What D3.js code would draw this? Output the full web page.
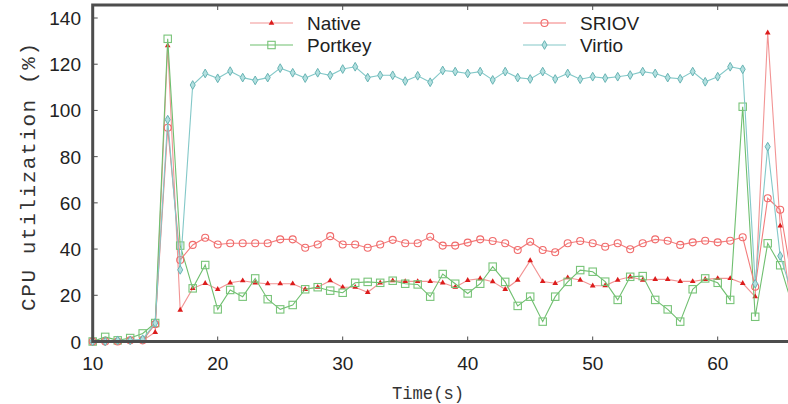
<!DOCTYPE html>
<html>
<head>
<meta charset="utf-8">
<script src="https://cdn.jsdelivr.net/npm/d3@7/dist/d3.min.js"></script>
<style>
  html, body { margin: 0; padding: 0; background: #fff; }
  svg { display: block; }
</style>
</head>
<body>
<div id="chart"></div>
<script>
// Time axis (seconds)
const times = [10, 11, 12, 13, 14, 15, 16, 17, 18, 19, 20, 21, 22, 23, 24, 25, 26, 27, 28, 29,
  30, 31, 32, 33, 34, 35, 36, 37, 38, 39, 40, 41, 42, 43, 44, 45, 46, 47, 48, 49,
  50, 51, 52, 53, 54, 55, 56, 57, 58, 59, 60, 61, 62, 63, 64, 65, 66];

// CPU utilization (%) per configuration
const nativeCpu = [0, 0, 0, 0, 0.5, 4, 128, 13.6, 23, 25.2, 22.6, 25.4, 26.3, 25.4, 25, 25, 25, 22.6, 23.5, 26.3,
  23.5, 23.5, 21.3, 25.4, 26.3, 26, 26, 26, 25.4, 23.5, 26.5, 27.2, 25.9, 22.6, 26.6, 35, 26, 25.2, 27.6, 26.6,
  24.1, 24.2, 26.6, 28, 26.6, 26.9, 26.9, 26, 26, 26.9, 27.3, 27.3, 25.2, 19.4, 133.6, 50, 10];

const sriovCpu = [0, 0, 0, 0.5, 0.5, 7.5, 92.5, 35.3, 41.8, 44.9, 42, 42.5, 42.5, 42.5, 42.5, 44.2, 44.2, 40.6, 42, 45.6,
  42, 42, 40.6, 42, 44, 42.5, 42.5, 45.3, 41.5, 41.5, 42.8, 44.2, 43.5, 42.5, 39.6, 43.2, 39.6, 38.6, 42.5, 43.5,
  42.5, 41, 42.5, 39.9, 42.5, 44.2, 43.6, 41.8, 42.9, 43.6, 42.9, 43.6, 45.1, 23.7, 62, 57, 25];

const portkeyCpu = [0, 2, 0.5, 1.5, 3.5, 8, 131, 41.5, 23, 33.1, 13.9, 22.3, 19.4, 27.3, 18.3, 13.9, 15.8, 22.6, 23.5, 22,
  21.1, 25.4, 25.8, 25.4, 26.3, 25, 24.7, 19.4, 29.2, 25, 20.8, 25, 32.4, 25.8, 15.4, 19.4, 8.6, 19.4, 25.8, 30.9,
  30.2, 25.9, 18, 28, 28.3, 18, 13.9, 8.6, 22.6, 27.3, 25.4, 18, 101.6, 10.7, 42.5, 33, 15];

const virtioCpu = [0, 0, 0.5, 0.5, 1, 8, 96, 31, 111, 116, 113.9, 117, 114.2, 113, 114.2, 118.3, 116.3, 114, 116.3, 115.2,
  117.9, 118.9, 114.2, 115.2, 115.2, 112.7, 115, 112.2, 117.3, 116.8, 116, 116.8, 113.2, 116.8, 114.2, 113.6, 116.8, 113.6, 116, 113.5,
  114.6, 114, 114.6, 115.3, 116.8, 116, 114.2, 113.7, 116.8, 112.4, 114.6, 118.9, 117.8, 25, 84.3, 37, 20];

const xTicks = [10, 20, 30, 40, 50, 60];
const yTicks = [0, 20, 40, 60, 80, 100, 120, 140];

const seriesNames = ["Native", "SRIOV", "Portkey", "Virtio"];

const W = 788, H = 404;
const svg = d3.select("#chart").append("svg").attr("width", W).attr("height", H);

const x = d3.scaleLinear().domain([10, 70]).range([92.7, 842.7]);
const y = d3.scaleLinear().domain([0, 140]).range([341.5, 18]);
const plotTop = 5;

const styles = {
  Native:  { values: nativeCpu,  line: "#f29494", mark: "#dc1c1c", shape: "triangle" },
  SRIOV:   { values: sriovCpu,   line: "#f37c7c", mark: "#f06a6a", shape: "circle" },
  Portkey: { values: portkeyCpu, line: "#6fbf6f", mark: "#78c478", shape: "square" },
  Virtio:  { values: virtioCpu,  line: "#83c8c8", mark: "#68b4b4", shape: "diamond" }
};

const frameColor = "#4d4d4d";

// Tick marks (inside the frame, mirrored on top)
const gTicks = svg.append("g");
xTicks.forEach(t => {
  gTicks.append("line").attr("x1", x(t)).attr("x2", x(t)).attr("y1", y(0)).attr("y2", y(0) - 5)
    .attr("stroke", frameColor).attr("stroke-width", 1);
  gTicks.append("line").attr("x1", x(t)).attr("x2", x(t)).attr("y1", plotTop).attr("y2", plotTop + 5)
    .attr("stroke", frameColor).attr("stroke-width", 1);
});
yTicks.forEach(v => {
  gTicks.append("line").attr("x1", x(10)).attr("x2", x(10) + 5).attr("y1", y(v)).attr("y2", y(v))
    .attr("stroke", frameColor).attr("stroke-width", 1);
});

// Series
const line = d3.line().x(d => x(d[0])).y(d => y(d[1]));

function drawMarker(g, shape, cx, cy, color) {
  if (shape === "triangle") {
    g.append("path").attr("d", d3.symbol().type(d3.symbolTriangle).size(14)())
      .attr("transform", `translate(${cx},${cy})`).attr("fill", color);
  } else if (shape === "circle") {
    g.append("circle").attr("cx", cx).attr("cy", cy).attr("r", 3.5)
      .attr("fill", "none").attr("stroke", color).attr("stroke-width", 1.1);
  } else if (shape === "square") {
    g.append("rect").attr("x", cx - 3.7).attr("y", cy - 3.7).attr("width", 7.4).attr("height", 7.4)
      .attr("fill", "none").attr("stroke", color).attr("stroke-width", 1.1);
  } else {
    g.append("path").attr("d", d3.symbol().type(d3.symbolDiamond).size(22)())
      .attr("transform", `translate(${cx},${cy})`)
      .attr("fill", "#b3e0e0").attr("stroke", color).attr("stroke-width", 1);
  }
}

["Native", "Portkey", "SRIOV", "Virtio"].forEach(name => {
  const s = styles[name];
  const pts = times.map((t, i) => [t, s.values[i]]);
  const g = svg.append("g");
  g.append("path").datum(pts).attr("d", line)
    .attr("fill", "none").attr("stroke", s.line).attr("stroke-width", 1.1);
  pts.forEach(p => drawMarker(g, s.shape, x(p[0]), y(p[1]), s.mark));
});

// Frame: left, top, bottom (right side runs past the canvas)
svg.append("path")
  .attr("d", `M${W + 2},${plotTop} H${x(10)} V${y(0)} H${W + 2}`)
  .attr("fill", "none").attr("stroke", frameColor).attr("stroke-width", 3);

// Tick labels
const labelFont = "'Liberation Sans', Arial, sans-serif";
svg.append("g").selectAll("text").data(xTicks).join("text")
  .attr("x", d => x(d)).attr("y", 370).attr("text-anchor", "middle")
  .attr("font-family", labelFont).attr("font-size", 19).attr("fill", "#222")
  .text(d => d);
svg.append("g").selectAll("text").data(yTicks).join("text")
  .attr("x", 81).attr("y", d => y(d) + 7).attr("text-anchor", "end")
  .attr("font-family", labelFont).attr("font-size", 19).attr("fill", "#222")
  .text(d => d);

// Axis titles
const monoFont = "'Liberation Mono', 'Courier New', monospace";
svg.append("text")
  .attr("transform", "translate(35,177) rotate(-90)")
  .attr("text-anchor", "middle")
  .attr("font-family", monoFont).attr("font-size", 21).attr("fill", "#333")
  .attr("textLength", 268).attr("lengthAdjust", "spacing")
  .text("CPU utilization (%)");
svg.append("text")
  .attr("x", 428).attr("y", 399).attr("text-anchor", "middle")
  .attr("font-family", monoFont).attr("font-size", 18).attr("fill", "#333")
  .attr("textLength", 72).attr("lengthAdjust", "spacingAndGlyphs")
  .text("Time(s)");

// Legend
const legendPos = {
  Native:  { x: 250, y: 23 },
  Portkey: { x: 250, y: 45 },
  SRIOV:   { x: 523, y: 23 },
  Virtio:  { x: 523, y: 45 }
};
seriesNames.forEach(name => {
  const s = styles[name], p = legendPos[name];
  const g = svg.append("g");
  g.append("line").attr("x1", p.x).attr("x2", p.x + 43).attr("y1", p.y).attr("y2", p.y)
    .attr("stroke", s.line).attr("stroke-width", 1.1);
  drawMarker(g, s.shape, p.x + 21.5, p.y, s.mark);
  g.append("text").attr("x", p.x + 57).attr("y", p.y + 7)
    .attr("font-family", labelFont).attr("font-size", 19).attr("fill", "#222")
    .text(name);
});
</script>
</body>
</html>
